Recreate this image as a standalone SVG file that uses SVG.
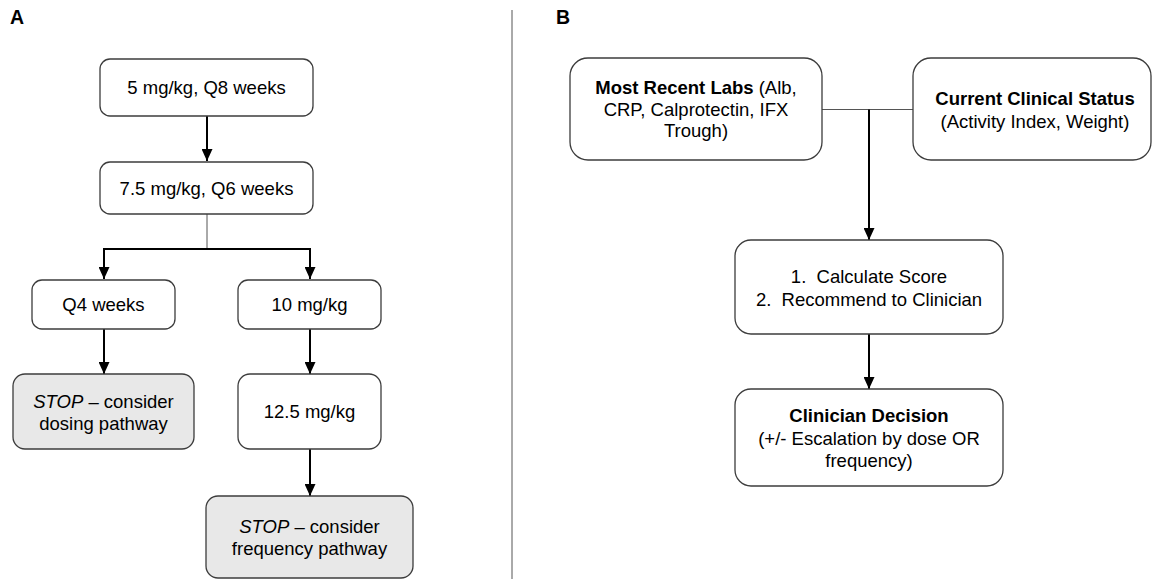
<svg xmlns="http://www.w3.org/2000/svg" width="1152" height="579" viewBox="0 0 1152 579">
<defs>
<style>
text{font-family:"Liberation Sans",Arial,sans-serif;font-size:18.5px;fill:#000;text-anchor:middle}
.lbl{font-weight:bold;text-anchor:start;font-size:19.5px}
.box{fill:#fff;stroke:#3c3c3c;stroke-width:1.3}
.stop{fill:#e8e8e8;stroke:#3c3c3c;stroke-width:1.3}
.arr{fill:none;stroke:#000;stroke-width:2;marker-end:url(#ah)}
.thin{fill:none;stroke:#555;stroke-width:1}
.b{font-weight:bold}
.i{font-style:italic}
</style>
<marker id="ah" markerUnits="userSpaceOnUse" markerWidth="12" markerHeight="11" refX="12" refY="5.5" orient="auto">
<path d="M0,0 L12,5.5 L0,11 z" fill="#000"/>
</marker>
</defs>
<rect width="1152" height="579" fill="#fff"/>
<text class="lbl" x="10" y="24">A</text>
<text class="lbl" x="556" y="24">B</text>
<line x1="512" y1="10" x2="512" y2="579" stroke="#555" stroke-width="1"/>

<g id="connectors">
<path class="arr" d="M207,116 V161"/>
<path class="thin" d="M207,214 V249"/>
<path class="arr" d="M207,249 H104 V279"/>
<path class="arr" d="M207,249 H310 V279"/>
<path class="arr" d="M104,329 V374"/>
<path class="arr" d="M310,329 V374"/>
<path class="arr" d="M310,449 V496"/>
<path class="thin" d="M822,109.5 H913"/>
<path class="arr" d="M869,109.5 V240"/>
<path class="arr" d="M869,334 V389"/>
</g>

<g id="n1"><rect class="box" x="100" y="59" width="213" height="57" rx="10"/><text x="206.5" y="94">5 mg/kg, Q8 weeks</text></g>
<g id="n2"><rect class="box" x="100" y="162" width="213" height="52" rx="10"/><text x="206.5" y="195">7.5 mg/kg, Q6 weeks</text></g>
<g id="n3"><rect class="box" x="32" y="280" width="143" height="49" rx="10"/><text x="103.5" y="311">Q4 weeks</text></g>
<g id="n4"><rect class="box" x="238" y="280" width="143" height="49" rx="10"/><text x="309.5" y="311">10 mg/kg</text></g>
<g id="n5"><rect class="stop" x="13" y="374" width="181" height="75" rx="12"/><text x="103.5" y="408"><tspan class="i">STOP</tspan> – consider</text><text x="103.5" y="430">dosing pathway</text></g>
<g id="n6"><rect class="box" x="238" y="374" width="143" height="75" rx="12"/><text x="309.5" y="418">12.5 mg/kg</text></g>
<g id="n7"><rect class="stop" x="206" y="496" width="207" height="82" rx="12"/><text x="309.5" y="533"><tspan class="i">STOP</tspan> – consider</text><text x="309.5" y="555">frequency pathway</text></g>

<g id="n8"><rect class="box" x="570" y="58" width="252" height="102" rx="18"/><text x="696" y="94"><tspan class="b">Most Recent Labs</tspan> (Alb,</text><text x="696" y="115.5">CRP, Calprotectin, IFX</text><text x="696" y="137">Trough)</text></g>
<g id="n9"><rect class="box" x="913" y="58" width="238" height="102" rx="18"/><text x="1035" y="105" class="b">Current Clinical Status</text><text x="1035" y="128">(Activity Index, Weight)</text></g>
<g id="n10"><rect class="box" x="735" y="240" width="268" height="94" rx="16"/><text x="869" y="283" xml:space="preserve">1.  Calculate Score</text><text x="869" y="306" xml:space="preserve">2.  Recommend to Clinician</text></g>
<g id="n11"><rect class="box" x="735" y="389" width="268" height="97" rx="16"/><text x="869" y="422" class="b">Clinician Decision</text><text x="869" y="445">(+/- Escalation by dose OR</text><text x="869" y="467">frequency)</text></g>
</svg>
